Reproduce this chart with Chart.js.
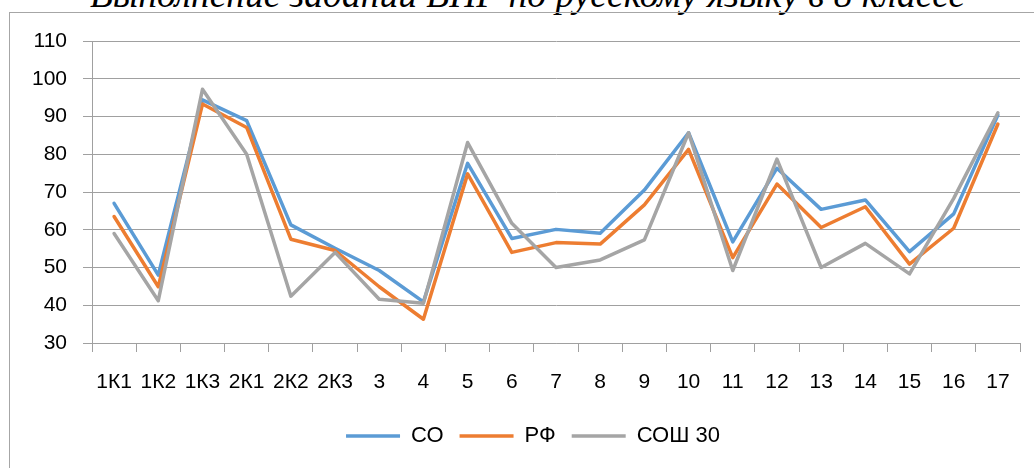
<!DOCTYPE html>
<html>
<head>
<meta charset="utf-8">
<script src="https://cdn.jsdelivr.net/npm/chart.js@4.4.1/dist/chart.umd.min.js"></script>
<style>
  html, body { margin: 0; padding: 0; background: #ffffff; }
  body { width: 1034px; height: 468px; position: relative; overflow: hidden; }
  #frame { position: absolute; left: 9px; top: 12px; width: 1100px; height: 600px; border: 1px solid #a6a6a6; box-sizing: border-box; }
  #title { position: absolute; left: 0; top: -24px; width: 1034px; text-align: center; font-family: "Liberation Serif", "Times New Roman", serif; font-style: italic; font-size: 37.5px; line-height: 1; color: #000; white-space: nowrap; padding-left: 21px; box-sizing: border-box; }
  #wrap { position: absolute; left: 0; top: 0; width: 1034px; height: 468px; }
</style>
</head>
<body>
<div id="title">Выполнение заданий ВПР по русскому языку в 8 классе</div>
<div id="frame"></div>
<div id="wrap"><canvas id="c" width="1034" height="468"></canvas></div>
<script>
const categories = ["1К1","1К2","1К3","2К1","2К2","2К3","3","4","5","6","7","8","9","10","11","12","13","14","15","16","17"];
const seriesCO   = [67, 48, 94.4, 88.9, 61.3, 55.1, 49.2, 40.9, 77.6, 57.7, 60.1, 59.1, 70.5, 85.7, 56.8, 76.3, 65.4, 67.9, 54.2, 64.2, 90.4];
const seriesRF   = [63.5, 44.9, 93.3, 87.1, 57.5, 54.5, 44.9, 36.3, 74.8, 54, 56.6, 56.2, 66.6, 81.3, 52.6, 72.1, 60.6, 66.1, 50.9, 60.4, 88];
const seriesSOSH = [59, 41.2, 97.2, 80, 42.4, 54, 41.6, 40.5, 83.1, 61.7, 50, 52, 57.3, 85.7, 49.2, 78.7, 50, 56.4, 48.3, 68.3, 91];
const seriesNames = ["СО", "РФ", "СОШ 30"];
const yTicks = { min: 30, max: 110, step: 10 };

const colors = ["#5B9BD5", "#ED7D31", "#A5A5A5"];
const FONT = "'Liberation Sans', Arial, sans-serif";

function ds(label, data, color, order) {
  return {
    label, data, order,
    borderColor: color, backgroundColor: color,
    borderWidth: 3.5, pointRadius: 0, pointHoverRadius: 0,
    tension: 0, fill: false, borderJoinStyle: 'round', borderCapStyle: 'round'
  };
}

const shiftLegend = {
  id: 'shiftLegend',
  afterLayout(chart) {
    if (chart.legend) { chart.legend.left += 23; chart.legend.right += 23; }
  }
};

new Chart(document.getElementById('c'), {
  type: 'line',
  data: {
    labels: categories,
    datasets: [
      ds(seriesNames[0], seriesCO, colors[0], 3),
      ds(seriesNames[1], seriesRF, colors[1], 2),
      ds(seriesNames[2], seriesSOSH, colors[2], 1)
    ]
  },
  plugins: [shiftLegend],
  options: {
    responsive: false,
    animation: false,
    events: [],
    layout: { padding: { top: 41, left: 0, right: 14, bottom: 11 } },
    plugins: {
      title: { display: false },
      tooltip: { enabled: false },
      legend: {
        display: true,
        position: 'bottom',
        reverse: true,
        labels: {
          usePointStyle: true,
          pointStyle: 'line',
          pointStyleWidth: 54,
          boxHeight: 21,
          padding: 16,
          color: '#000',
          font: { family: FONT, size: 22 }
        }
      }
    },
    scales: {
      x: {
        offset: true,
        afterFit(scale) { scale.height = 66; },
        grid: { offset: true, drawOnChartArea: false, drawTicks: true, tickLength: 9, color: '#a0a0a0', lineWidth: 1 },
        border: { display: true, color: '#a0a0a0', width: 1 },
        ticks: { color: '#000', font: { family: FONT, size: 21 }, padding: 18, maxRotation: 0, autoSkip: false }
      },
      y: {
        min: yTicks.min, max: yTicks.max,
        afterFit(scale) { scale.width = 92; },
        grid: { drawTicks: true, tickLength: 9, color: '#a0a0a0', lineWidth: 1 },
        border: { display: true, color: '#a0a0a0', width: 1 },
        ticks: { stepSize: yTicks.step, color: '#000', font: { family: FONT, size: 21 }, padding: 16 }
      }
    }
  }
});
</script>
</body>
</html>
